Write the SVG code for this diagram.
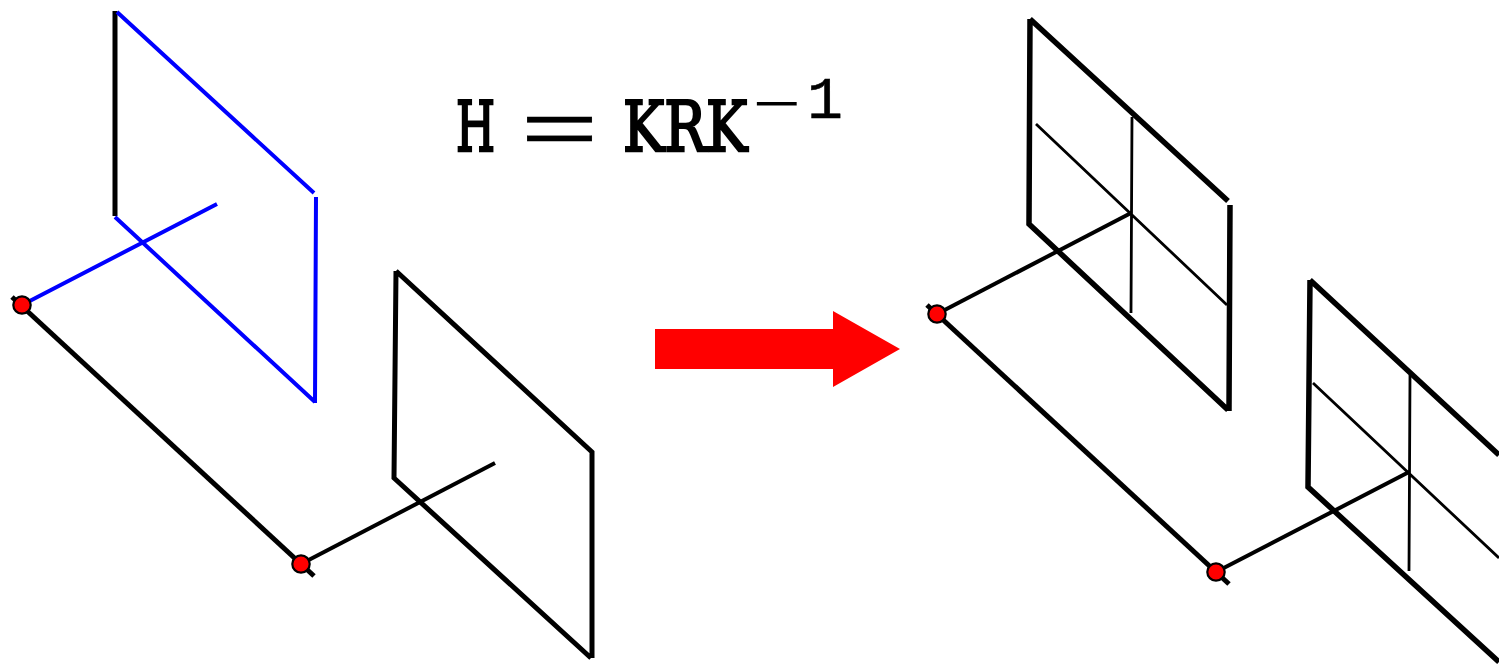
<svg xmlns="http://www.w3.org/2000/svg" width="1499" height="666" viewBox="0 0 1499 666">
<style>
.k{stroke:#000;stroke-width:5;fill:none}
.h{stroke:#000;stroke-width:5.5;fill:none}
.r{stroke:#000;stroke-width:4;fill:none}
.t{stroke:#000;stroke-width:2.8;fill:none}
.b{stroke:#00f;stroke-width:4;fill:none}
.p{fill:#f00;stroke:#000;stroke-width:2.2}
.f{font-family:"DejaVu Serif","Liberation Serif",serif;fill:#000;stroke:#000;stroke-width:2.6}
.m{font-family:"Liberation Mono","DejaVu Sans Mono",monospace;fill:#000}
</style>
<rect width="1499" height="666" fill="#fff"/>
<g id="connectors">
<path class="k" d="M12 297L314 576"/>
<path class="r" d="M301 564L495 463"/>
<path class="k" d="M927 305L1229 584"/>
<path class="r" d="M937 314L1131 213"/>
<path class="r" d="M1216 572L1409 472"/>
</g>
<g id="plane-blue">
<path class="k" d="M115 11V216"/>
<path class="b" d="M117 12L314 193M316 197L315 403M115 217L315 402M22 305L217 204"/>
</g>
<g id="plane-left">
<path class="k" d="M396 271L394 478L591 658M396 271L592 452L592 658"/>
</g>
<g id="plane-right-top">
<path class="h" d="M1030 19L1029 224L1228 410M1030 19L1228 201M1230 205L1229 411"/>
<path class="t" d="M1036 124L1227 305M1132 117L1131 313"/>
</g>
<g id="plane-right-bottom">
<path class="h" d="M1310 280L1308 487L1499 662M1310 280L1499 455"/>
<path class="t" d="M1313 383L1499 558M1410 375L1409 571"/>
</g>
<g id="points">
<circle class="p" cx="22" cy="305" r="8.7"/>
<circle class="p" cx="301" cy="564" r="8.7"/>
<circle class="p" cx="937" cy="314" r="8.7"/>
<circle class="p" cx="1216" cy="572" r="8.7"/>
</g>
<g id="arrow">
<path d="M655 329H833V311L900 349L833 387V369H655Z" fill="#f00"/>
</g>
<g id="formula">
<text class="f" font-size="70" transform="translate(456,151) scale(.64,1)">H</text>
<text class="m" font-size="150" stroke="#000" stroke-width="1" transform="translate(520,153) scale(.88,.5)">=</text>
<text class="f" font-size="70" transform="translate(623,151) scale(.79,1)">KRK</text>
<text class="m" font-size="82" transform="translate(752,120) scale(1,.6)">−</text>
<text class="m" x="807" y="118" font-size="60" stroke="#000" stroke-width=".5">1</text>
</g>
</svg>
